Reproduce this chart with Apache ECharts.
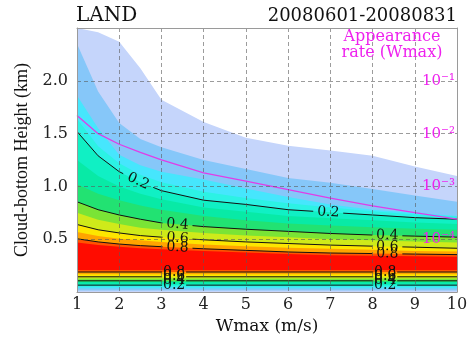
<!DOCTYPE html>
<html>
<head>
<meta charset="utf-8">
<script src="https://cdn.jsdelivr.net/npm/echarts@6/dist/echarts.min.js"></script>
<style>
html,body{margin:0;padding:0;background:#fff;}
#chart{width:473px;height:340px;}
</style>
</head>
<body>
<div id="chart"></div>
<script>
// Wmax grid the contour edges were read on
var wmax = [1, 1.5, 2, 2.5, 3, 4, 5, 6, 7, 8, 9, 10];

// filled levels, outermost first
var bandColors = ['#c5d5fb', '#86c7f9', '#46e6fd', '#2cf2e4', '#10f0c4', '#08eaa6', '#22e272',
                  '#7ae436', '#cfea1a', '#fde600', '#ffa400', '#ff5400', '#ff0c00'];

// upper edge of each level (km)
var bandTops = [
  [2.50, 2.46, 2.37, 2.12, 1.82, 1.61, 1.46, 1.385, 1.34, 1.29, 1.19, 1.10],
  [2.35, 1.90, 1.60, 1.45, 1.37, 1.25, 1.165, 1.08, 1.035, 0.975, 0.915, 0.855],
  [1.86, 1.55, 1.30, 1.20, 1.14, 1.065, 0.98, 0.90, 0.83, 0.78, 0.75, 0.72],
  [1.64, 1.38, 1.22, 1.11, 1.04, 0.95, 0.89, 0.84, 0.80, 0.765, 0.735, 0.715],
  [1.52, 1.29, 1.14, 1.04, 0.96, 0.87, 0.83, 0.78, 0.755, 0.73, 0.705, 0.69],
  [1.25, 1.10, 1.00, 0.93, 0.88, 0.80, 0.76, 0.72, 0.70, 0.68, 0.66, 0.645],
  [1.02, 0.93, 0.87, 0.82, 0.78, 0.72, 0.68, 0.65, 0.63, 0.615, 0.60, 0.59],
  [0.855, 0.78, 0.73, 0.69, 0.655, 0.62, 0.595, 0.575, 0.555, 0.54, 0.53, 0.52],
  [0.75, 0.685, 0.645, 0.61, 0.59, 0.56, 0.535, 0.52, 0.50, 0.49, 0.48, 0.47],
  [0.64, 0.59, 0.56, 0.535, 0.52, 0.495, 0.475, 0.46, 0.445, 0.435, 0.425, 0.415],
  [0.57, 0.53, 0.505, 0.49, 0.475, 0.45, 0.435, 0.42, 0.41, 0.40, 0.39, 0.385],
  [0.505, 0.475, 0.455, 0.44, 0.43, 0.41, 0.395, 0.38, 0.37, 0.365, 0.36, 0.355],
  [0.47, 0.445, 0.43, 0.415, 0.405, 0.39, 0.375, 0.36, 0.35, 0.345, 0.34, 0.335]
];
// lower edge of each level (km), flat along Wmax
var bandBottoms = [0, 0.015, 0.035, 0.05, 0.066, 0.08, 0.095, 0.107, 0.128, 0.145, 0.17, 0.19, 0.21];

// labelled contours and the level they bound
var contourLevels = ['0.2', '0.4', '0.6', '0.8'];
var contourBands = [4, 7, 9, 11];
var upperLabelX = [[2.45, 6.95], [3.38, 8.35], [3.38, 8.35], [3.38, 8.35]];
var lowerLabelX = [3.3, 8.3];

// appearance rate of Wmax (right log axis)
var appearanceRate = [0.022, 0.010, 0.0063, 0.0044, 0.0032, 0.0018, 0.00126, 0.00087, 0.0006, 0.00043, 0.00032, 0.00024];
var rateSup = ['', '\u207b\u00b9', '\u207b\u00b2', '\u207b\u00b3', '\u207b\u2074'];

var serif = '"DejaVu Serif", serif';
var gridStyle = {color: 'rgba(90,90,90,0.6)', width: 1, type: [4, 3]};
var frame = {show: true, lineStyle: {color: '#9a9a9a', width: 1}};

function lineAt(xs, ys, x) {
  for (var j = 0; j < xs.length - 1; j++) {
    if (x <= xs[j + 1]) {
      var t = (x - xs[j]) / (xs[j + 1] - xs[j]);
      return ys[j] + t * (ys[j + 1] - ys[j]);
    }
  }
  return ys[ys.length - 1];
}

function cutGaps(pts, gaps) {
  var px = pts.map(function (p) { return p[0]; });
  var py = pts.map(function (p) { return p[1]; });
  var cuts = px.slice();
  gaps.forEach(function (g) { cuts.push(g[0], g[1]); });
  cuts.sort(function (a, b) { return a - b; });
  function inGap(x) { return gaps.some(function (g) { return x > g[0] + 0.01 && x < g[1] - 0.01; }); }
  var out = [], cur = [], prev = null;
  cuts.forEach(function (x) {
    if (x < px[0] || x > px[px.length - 1] || inGap(x)) return;
    if (prev !== null && inGap((prev + x) / 2)) {
      if (cur.length > 1) out.push(cur);
      cur = [];
    }
    cur.push([x, lineAt(px, py, x)]);
    prev = x;
  });
  if (cur.length > 1) out.push(cur);
  return out;
}

function renderBand(params, api) {
  var i = params.dataIndex;
  var pts = [];
  for (var j = 0; j < wmax.length; j++) pts.push(api.coord([wmax[j], bandTops[i][j]]));
  pts.push(api.coord([wmax[wmax.length - 1], bandBottoms[i]]));
  pts.push(api.coord([wmax[0], bandBottoms[i]]));
  return {type: 'polygon', shape: {points: pts}, style: {fill: bandColors[i], stroke: null}};
}

function labelEl(txt, p, angle) {
  return {type: 'text', x: p[0], y: p[1], rotation: -angle,
    style: {text: txt, align: 'center', verticalAlign: 'middle', font: '14px ' + serif, fill: '#111'}};
}

function renderContour(params, api) {
  var k = params.dataIndex, b = contourBands[k];
  var children = [];
  var half = 15;
  // upper edge
  var top = wmax.map(function (x, j) { return api.coord([x, bandTops[b][j]]); });
  var gaps = [];
  upperLabelX[k].forEach(function (x) {
    var p = api.coord([x, lineAt(wmax, bandTops[b], x)]);
    var a = api.coord([x - 0.15, lineAt(wmax, bandTops[b], x - 0.15)]);
    var c = api.coord([x + 0.15, lineAt(wmax, bandTops[b], x + 0.15)]);
    var ang = Math.atan2(c[1] - a[1], c[0] - a[0]);
    gaps.push([p[0] - half, p[0] + half]);
    children.push(labelEl(contourLevels[k], p, ang));
  });
  cutGaps(top, gaps).forEach(function (seg) {
    children.push({type: 'polyline', shape: {points: seg}, style: {stroke: '#111', lineWidth: 1, fill: 'none'}});
  });
  // lower edge
  var low = [api.coord([wmax[0], bandBottoms[b]]), api.coord([wmax[wmax.length - 1], bandBottoms[b]])];
  var lgaps = [];
  lowerLabelX.forEach(function (x) {
    var p = api.coord([x, bandBottoms[b]]);
    lgaps.push([p[0] - 12, p[0] + 12]);
    children.push(labelEl(contourLevels[k], p, 0));
  });
  cutGaps(low, lgaps).forEach(function (seg) {
    children.push({type: 'polyline', shape: {points: seg}, style: {stroke: '#111', lineWidth: 1, fill: 'none'}});
  });
  return {type: 'group', children: children};
}

var myChart = echarts.init(document.getElementById('chart'));

var option = {
  animation: false,
  title: [
    {text: 'LAND', left: 76, top: 6, padding: 0,
     textStyle: {fontFamily: serif, fontSize: 20, fontWeight: 'normal', color: '#111'}},
    {text: '20080601-20080831', right: 16, top: 7, padding: 0,
     textStyle: {fontFamily: serif, fontSize: 18, fontWeight: 'normal', color: '#111'}}
  ],
  graphic: [{
    type: 'text', x: 392, y: 29, z: 20,
    style: {text: 'Appearance\nrate (Wmax)', align: 'center', verticalAlign: 'top',
            font: '16px ' + serif, lineHeight: 16, fill: '#ee22ee'}
  }],
  grid: {left: 77, right: 16, top: 28, bottom: 38},
  xAxis: [{
    type: 'value', min: 1, max: 10, interval: 1, z: 10,
    name: 'Wmax (m/s)', nameLocation: 'middle', nameGap: 17,
    nameTextStyle: {fontFamily: serif, fontSize: 17, color: '#111'},
    axisLine: frame, axisTick: {show: false},
    axisLabel: {fontFamily: serif, fontSize: 16, color: '#222', margin: 5},
    splitLine: {show: true, lineStyle: gridStyle}
  }, {
    type: 'value', min: 1, max: 10, position: 'top', z: 10,
    axisLine: frame, axisTick: {show: false}, axisLabel: {show: false}, splitLine: {show: false}
  }],
  yAxis: [{
    type: 'value', min: 0, max: 2.5, interval: 0.5, z: 10,
    name: 'Cloud-bottom Height (km)', nameLocation: 'middle', nameGap: 44,
    nameTextStyle: {fontFamily: '"Liberation Serif", serif', fontSize: 18, color: '#111'},
    axisLine: frame, axisTick: {show: false},
    axisLabel: {fontFamily: serif, fontSize: 16, color: '#222', margin: 9,
      formatter: function (v) { return (v === 0 || v === 2.5) ? '' : v.toFixed(1); }},
    splitLine: {show: true, lineStyle: gridStyle}
  }, {
    type: 'log', min: 1e-5, max: 1, logBase: 10, position: 'right', z: 10,
    axisLine: frame, axisTick: {show: false}, splitLine: {show: false},
    axisLabel: {inside: true, margin: 2, fontFamily: serif, fontSize: 15, color: '#ee22ee',
      formatter: function (v) {
        var e = -Math.round(Math.log(v) / Math.LN10);
        return (e >= 1 && e <= 4) ? '10' + rateSup[e] : '';
      }}
  }],
  series: [
    {
      type: 'custom', z: 1, clip: true, silent: true,
      renderItem: renderBand,
      data: bandColors.map(function (c, i) { return [wmax[0], bandBottoms[i]]; })
    },
    {
      type: 'custom', z: 3, clip: true, silent: true,
      renderItem: renderContour,
      data: contourLevels.map(function (v, i) { return [wmax[0], bandBottoms[contourBands[i]]]; })
    },
    {
      type: 'line', yAxisIndex: 1, z: 4, showSymbol: false, silent: true,
      lineStyle: {color: '#e03ce8', width: 1.3},
      data: wmax.map(function (x, i) { return [x, appearanceRate[i]]; })
    }
  ]
};
myChart.setOption(option);
</script>
</body>
</html>
